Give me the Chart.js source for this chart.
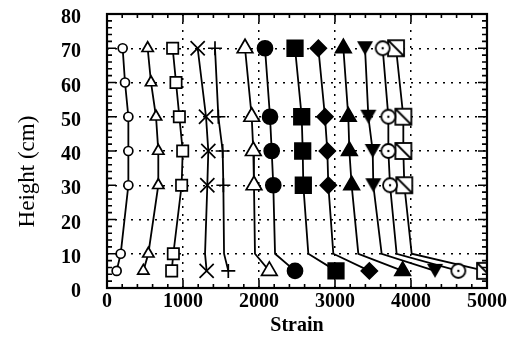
<!DOCTYPE html>
<html>
<head>
<meta charset="utf-8">
<script src="https://cdn.jsdelivr.net/npm/chart.js@4/dist/chart.umd.min.js"></script>
<style>
  html, body { margin: 0; padding: 0; background: #fff; }
  canvas { display: block; }
</style>
</head>
<body>
<canvas id="chart" width="520" height="338"></canvas>
<script>
// heights (cm) of the gauges
const heightsInner = [70, 60, 50, 40, 30, 10, 5];
const heightsOuter = [70, 50, 40, 30, 10, 5];

// strain readings, one array per load step
const strainCircle   = [206, 237, 281, 281, 281, 180, 127];
const strainTriangle = [535, 579, 645, 675, 675, 544, 478];
const strainSquare   = [864, 908, 952, 996, 982, 873, 851];
const strainX        = [1193, 1303, 1333, 1320, 1290, 1311];
const strainPlus     = [1421, 1465, 1522, 1531, 1540, 1596];
const strainTriOpen  = [1816, 1904, 1925, 1934, 1947, 2136];
const strainDot      = [2079, 2145, 2167, 2188, 2211, 2474];
const strainBlock    = [2474, 2562, 2575, 2583, 2649, 3013];
const strainDiamond  = [2781, 2868, 2899, 2912, 2978, 3452];
const strainTriUp    = [3110, 3175, 3189, 3219, 3307, 3890];
const strainTriDown  = [3395, 3439, 3496, 3504, 3614, 4316];
const strainRing     = [3627, 3702, 3702, 3724, 3811, 4623];
const strainSlash    = [3803, 3899, 3899, 3912, 4009, 4974];

const xTicks = [0, 1000, 2000, 3000, 4000, 5000];
const yTicks = [0, 10, 20, 30, 40, 50, 60, 70, 80];

const serif = 'Liberation Serif';

function marker(kind) {
    const c = document.createElement('canvas');
    c.width = 20; c.height = 20;
    const g = c.getContext('2d');
    g.lineWidth = 1.8;
    g.strokeStyle = '#000';
    g.fillStyle = '#000';
    if (kind === 'down') {
        g.beginPath();
        g.moveTo(2, 3); g.lineTo(18, 3); g.lineTo(10, 17);
        g.closePath();
        g.fill();
    } else if (kind === 'ring') {
        g.fillStyle = '#fff';
        g.beginPath(); g.arc(10, 10, 7, 0, Math.PI * 2); g.fill(); g.stroke();
        g.fillStyle = '#000';
        g.beginPath(); g.arc(10, 10, 1.2, 0, Math.PI * 2); g.fill();
    } else if (kind === 'slash') {
        g.fillStyle = '#fff';
        g.fillRect(2, 2, 16, 16);
        g.strokeRect(2, 2, 16, 16);
        g.beginPath(); g.moveTo(2, 2); g.lineTo(18, 18); g.stroke();
    }
    return c;
}

function pts(xs, ys) {
    return xs.map((x, i) => ({ x: x, y: ys[i] }));
}

function series(xs, ys, style, r, fill, hideBend) {
    return {
        data: pts(xs, ys),
        showLine: true,
        borderColor: '#000',
        borderWidth: 1.8,
        tension: 0,
        pointStyle: style,
        pointRadius: ys.map(h => (hideBend && h === 10) ? 0 : r),
        pointBackgroundColor: fill,
        pointBorderColor: '#000',
        pointBorderWidth: 1.7
    };
}

const datasets = [
    series(strainCircle, heightsInner, 'circle', 4.5, '#fff', false),
    series(strainTriangle, heightsInner, 'triangle', 6.5, '#fff', false),
    series(strainSquare, heightsInner, 'rect', 8, '#fff', false),
    series(strainX, heightsOuter, 'crossRot', 10, '#000', true),
    series(strainPlus, heightsOuter, 'cross', 7, '#000', true),
    series(strainTriOpen, heightsOuter, 'triangle', 9, '#fff', true),
    series(strainDot, heightsOuter, 'circle', 7.5, '#000', true),
    series(strainBlock, heightsOuter, 'rect', 11, '#000', true),
    series(strainDiamond, heightsOuter, 'rectRot', 8, '#000', true),
    series(strainTriUp, heightsOuter, 'triangle', 9, '#000', true),
    series(strainTriDown, heightsOuter, marker('down'), 8, '#000', true),
    series(strainRing, heightsOuter, marker('ring'), 8, '#fff', true),
    series(strainSlash, heightsOuter, marker('slash'), 8, '#fff', true)
];

// frame with inward ticks on all four sides, plus the y title
const frame = {
    id: 'frame',
    afterDraw(chart) {
        const { ctx, chartArea: a, scales: { x, y } } = chart;
        ctx.save();
        ctx.strokeStyle = '#000';
        ctx.lineWidth = 1.6;
        ctx.beginPath();
        for (let v = 0; v <= 5000; v += 200) {
            const px = x.getPixelForValue(v);
            const len = v % 1000 === 0 ? 8 : 4;
            ctx.moveTo(px, a.bottom); ctx.lineTo(px, a.bottom - len);
            ctx.moveTo(px, a.top); ctx.lineTo(px, a.top + len);
        }
        for (let v = 0; v <= 80; v += 2) {
            const py = y.getPixelForValue(v);
            const len = v % 10 === 0 ? 9 : 5;
            ctx.moveTo(a.left, py); ctx.lineTo(a.left + len, py);
            ctx.moveTo(a.right, py); ctx.lineTo(a.right - len, py);
        }
        ctx.stroke();
        ctx.lineWidth = 2.2;
        ctx.strokeRect(a.left, a.top, a.right - a.left, a.bottom - a.top);

        ctx.translate(28, y.getPixelForValue(34));
        ctx.rotate(-Math.PI / 2);
        ctx.fillStyle = '#000';
        ctx.font = '23px "' + serif + '"';
        ctx.textAlign = 'center';
        ctx.textBaseline = 'middle';
        ctx.fillText('Height (cm)', 0, 0);
        ctx.restore();
    }
};

const whiteBg = {
    id: 'whiteBg',
    beforeDraw(chart) {
        const c = chart.ctx;
        c.save();
        c.fillStyle = '#fff';
        c.fillRect(0, 0, chart.width, chart.height);
        c.restore();
    }
};

new Chart(document.getElementById('chart'), {
    type: 'scatter',
    data: { datasets: datasets },
    options: {
        responsive: false,
        animation: false,
        layout: { padding: { left: 0, right: 33, top: 14, bottom: 0 } },
        plugins: { legend: { display: false }, tooltip: { enabled: false } },
        scales: {
            x: {
                type: 'linear', min: 0, max: 5000,
                afterBuildTicks: s => { s.ticks = xTicks.map(v => ({ value: v })); },
                afterFit: s => { s.height = 50; },
                ticks: {
                    color: '#000', padding: 2, maxRotation: 0,
                    callback: v => String(v),
                    font: { family: serif, size: 20, weight: 'bold' }
                },
                grid: {
                    color: c => (c.tick && (c.tick.value === 0 || c.tick.value === 5000)) ? 'rgba(0,0,0,0)' : '#000',
                    lineWidth: 1.5, drawTicks: false
                },
                border: { display: false, dash: [2, 6] },
                title: {
                    display: true, text: 'Strain', color: '#000',
                    padding: { top: 0, bottom: 0 },
                    font: { family: serif, size: 20, weight: 'bold' }
                }
            },
            y: {
                type: 'linear', min: 0, max: 80,
                afterBuildTicks: s => { s.ticks = yTicks.map(v => ({ value: v })); },
                afterFit: s => { s.width = 107; s.paddingTop = 0; s.paddingBottom = 0; },
                ticks: {
                    color: '#000', padding: 26, labelOffset: 4,
                    callback: v => String(v),
                    font: { family: serif, size: 20, weight: 'bold' }
                },
                grid: {
                    color: c => (c.tick && (c.tick.value === 0 || c.tick.value === 80)) ? 'rgba(0,0,0,0)' : '#000',
                    lineWidth: 1.5, drawTicks: false
                },
                border: { display: false, dash: [2, 6] },
                title: { display: false }
            }
        }
    },
    plugins: [whiteBg, frame]
});
</script>
</body>
</html>
